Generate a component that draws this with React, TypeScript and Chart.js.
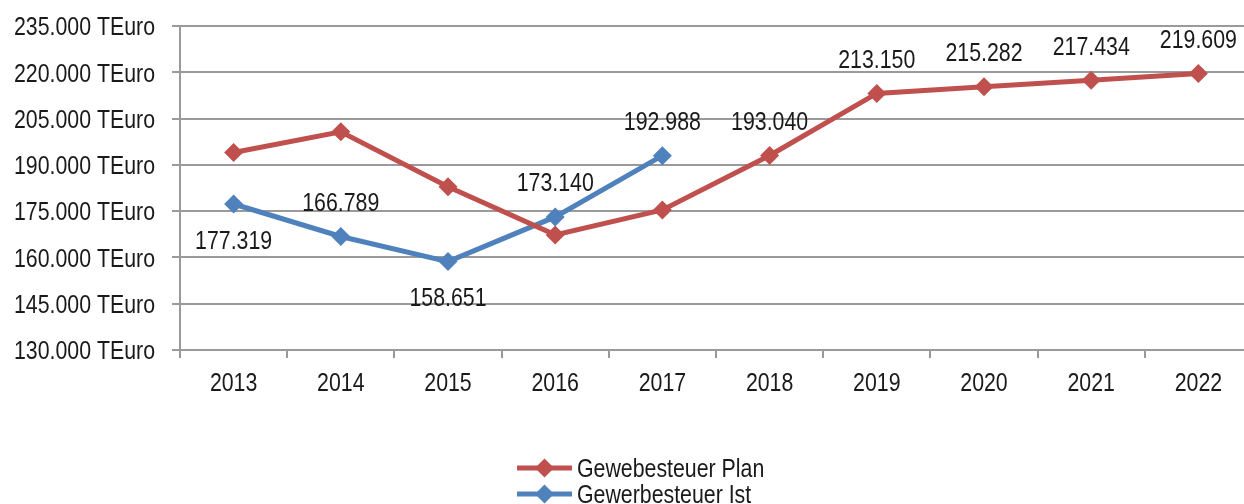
import React, { useEffect, useRef } from 'react';
import { Chart, registerables } from 'chart.js';

Chart.register(...registerables);

const years = ['2013', '2014', '2015', '2016', '2017', '2018', '2019', '2020', '2021', '2022'];
const planValues = [194000, 200700, 182900, 167300, 175400, 193040, 213150, 215282, 217434, 219609];
const istValues = [177319, 166789, 158651, 173140, 192988, null, null, null, null, null];
const planLabelShown = [false, false, false, false, false, true, true, true, true, true];
const istLabelPlacement = ['below', 'above', 'below', 'above', 'above'];
const seriesNames = ['Gewebesteuer Plan', 'Gewerbesteuer Ist'];
const yMin = 130000;
const yMax = 235000;
const yStep = 15000;
const yUnit = 'TEuro';

const RED = '#C0504D';
const BLUE = '#4F81BD';
const GRID = '#9a9a9a';
const TEXT = '#1a1a1a';
const FONT = "26px 'Liberation Sans', Arial, sans-serif";
const NARROW = 0.82;
const VIEW_W = 1244;
const CANVAS_W = 1252;
const CANVAS_H = 504;

function formatDE(v: number): string {
  const s = Math.round(v).toString();
  return s.replace(/\B(?=(\d{3})+(?!\d))/g, '.');
}

// draws text in a narrow (condensed) style; baseline alphabetic
function narrowText(ctx: CanvasRenderingContext2D, text: string, x: number, y: number, align: CanvasTextAlign) {
  ctx.save();
  ctx.font = FONT;
  ctx.fillStyle = TEXT;
  ctx.textAlign = align;
  ctx.textBaseline = 'alphabetic';
  ctx.translate(x, y);
  ctx.scale(NARROW, 1);
  ctx.fillText(text, 0, 0);
  ctx.restore();
}

const DIGIT_HALF = 9.3;

const axisLabelPlugin = {
  id: 'axisLabels',
  afterDraw(chart: any) {
    const ctx = chart.ctx;
    const ys = chart.scales.y;
    const xs = chart.scales.x;
    ys.ticks.forEach((t: any) => {
      const py = ys.getPixelForValue(t.value);
      narrowText(ctx, `${formatDE(t.value)} ${yUnit}`, ys.right - 25, py + DIGIT_HALF, 'right');
    });
    xs.ticks.forEach((t: any, i: number) => {
      const px = xs.getPixelForTick(i);
      narrowText(ctx, String(xs.getLabelForValue(t.value)), px, xs.top + 32 + DIGIT_HALF, 'center');
    });
  },
};

const dataLabelPlugin = {
  id: 'dataLabels',
  afterDatasetsDraw(chart: any) {
    const ctx = chart.ctx;
    chart.data.datasets.forEach((ds: any, di: number) => {
      const meta = chart.getDatasetMeta(di);
      meta.data.forEach((pt: any, i: number) => {
        const v = ds.data[i];
        if (v == null) return;
        let placement: string | null = null;
        if (di === 0) placement = planLabelShown[i] ? 'above' : null;
        else placement = istLabelPlacement[i] || null;
        if (!placement) return;
        const dy = placement === 'above' ? -35 : 35.5;
        narrowText(ctx, formatDE(v), pt.x, pt.y + dy + DIGIT_HALF, 'center');
      });
    });
  },
};

const legendPlugin = {
  id: 'customLegend',
  afterDraw(chart: any) {
    const ctx = chart.ctx;
    const colors = [RED, BLUE];
    const cx = VIEW_W / 2;
    const lineStart = cx - 105;
    const lineEnd = lineStart + 55;
    const markX = (lineStart + lineEnd) / 2;
    const rows = [468, 494];
    seriesNames.forEach((name, i) => {
      const y = rows[i];
      ctx.save();
      ctx.strokeStyle = colors[i];
      ctx.lineWidth = 5;
      ctx.beginPath();
      ctx.moveTo(lineStart, y);
      ctx.lineTo(lineEnd, y);
      ctx.stroke();
      ctx.fillStyle = colors[i];
      ctx.beginPath();
      ctx.moveTo(markX - 9.5, y);
      ctx.lineTo(markX, y - 9.5);
      ctx.lineTo(markX + 9.5, y);
      ctx.lineTo(markX, y + 9.5);
      ctx.closePath();
      ctx.fill();
      ctx.restore();
      narrowText(ctx, name, lineEnd + 5, y + DIGIT_HALF, 'left');
    });
  },
};

export default function App() {
  const canvasRef = useRef<HTMLCanvasElement | null>(null);

  useEffect(() => {
    document.body.style.margin = '0';
    document.body.style.overflow = 'hidden';
    const canvas = canvasRef.current;
    if (!canvas) return;
    const chart = new Chart(canvas, {
      type: 'line',
      data: {
        labels: years,
        datasets: [
          {
            label: seriesNames[0],
            data: planValues,
            borderColor: RED,
            backgroundColor: RED,
            borderWidth: 5,
            pointStyle: 'rectRot',
            pointRadius: 9.5,
            pointBorderWidth: 0,
            pointBackgroundColor: RED,
            tension: 0,
          },
          {
            label: seriesNames[1],
            data: istValues,
            borderColor: BLUE,
            backgroundColor: BLUE,
            borderWidth: 5,
            pointStyle: 'rectRot',
            pointRadius: 9.5,
            pointBorderWidth: 0,
            pointBackgroundColor: BLUE,
            tension: 0,
          },
        ],
      },
      options: {
        animation: false,
        responsive: false,
        maintainAspectRatio: false,
        layout: { autoPadding: false, padding: { left: 0, right: 0, top: 26, bottom: 0 } },
        plugins: {
          legend: { display: false },
          tooltip: { enabled: false },
          title: { display: false },
        },
        scales: {
          x: {
            type: 'category',
            offset: true,
            grid: {
              offset: true,
              drawOnChartArea: false,
              drawTicks: true,
              tickLength: 8,
              color: GRID,
              lineWidth: 2,
            },
            border: { display: true, color: GRID, width: 2 },
            ticks: { display: false, autoSkip: false },
            afterFit(scale: any) {
              scale.height = 154;
            },
          },
          y: {
            min: yMin,
            max: yMax,
            grid: {
              color: GRID,
              lineWidth: 2,
              tickLength: 8,
              drawTicks: true,
            },
            border: { display: true, color: GRID, width: 2 },
            ticks: { display: false, stepSize: yStep },
            afterFit(scale: any) {
              scale.width = 180;
            },
          },
        },
      },
      plugins: [axisLabelPlugin, dataLabelPlugin, legendPlugin],
    });
    return () => chart.destroy();
  }, []);

  return (
    <div style={{ width: VIEW_W, height: CANVAS_H, position: 'relative', overflow: 'hidden', background: '#fff' }}>
      <canvas ref={canvasRef} width={CANVAS_W} height={CANVAS_H} style={{ display: 'block' }} />
    </div>
  );
}
